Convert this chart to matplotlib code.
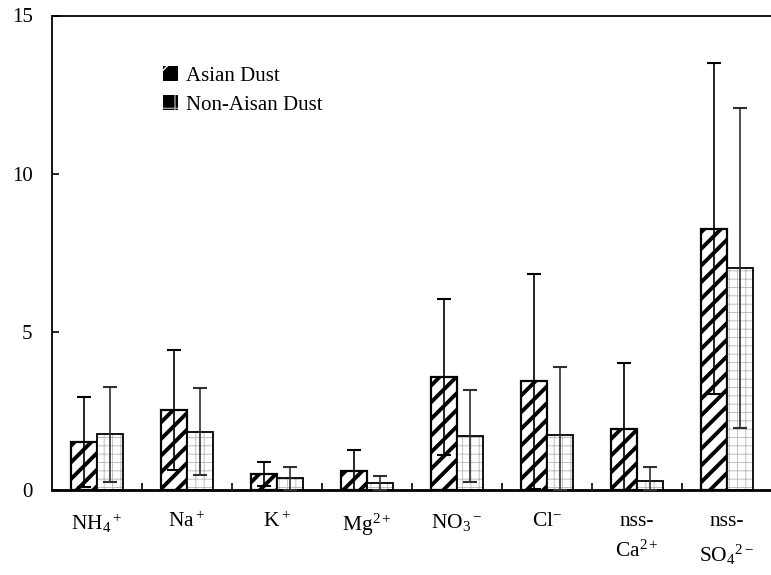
import matplotlib
matplotlib.use("Agg")
import matplotlib.pyplot as plt
from matplotlib.patches import Patch
import numpy as np

plt.rcParams['font.family'] = ['Liberation Serif', 'DejaVu Serif']
plt.rcParams['mathtext.fontset'] = 'custom'
plt.rcParams['mathtext.rm'] = 'Liberation Serif'
plt.rcParams['mathtext.it'] = 'Liberation Serif'
plt.rcParams['mathtext.bf'] = 'Liberation Serif'

categories = [r'NH$_4$$^+$', r'Na$^+$', r'K$^+$', r'Mg$^{2+}$', r'NO$_3$$^-$',
              r'Cl$^{-}$', 'nss-\nCa$^{2+}$', 'nss-\nSO$_4$$^{2-}$']
asian_mean = [1.52, 2.53, 0.50, 0.61, 3.58, 3.44, 1.93, 8.26]
asian_sd = [1.43, 1.89, 0.37, 0.67, 2.47, 3.40, 2.10, 5.24]
non_mean = [1.76, 1.84, 0.37, 0.23, 1.70, 1.74, 0.28, 7.02]
non_sd = [1.50, 1.37, 0.37, 0.22, 1.46, 2.15, 0.46, 5.05]
legend_labels = ['Asian Dust', 'Non-Aisan Dust']
yticks = [0, 5, 10, 15]

fig = plt.figure(figsize=(7.71, 5.75), dpi=100)
ax = fig.add_axes([52/771, 1-490/575, 720/771, (490-15.5)/575])

x = np.arange(len(categories)) + 0.5
w = 0.29

def lower_err(m, s):
    return [min(si, mi) for mi, si in zip(m, s)]

# Asian bars
b1 = ax.bar(x - w/2, asian_mean, width=w, facecolor='white', edgecolor='black',
            hatch='//', linewidth=1.6, zorder=2)
for p in b1:
    if hasattr(p, 'set_hatch_linewidth'):
        p.set_hatch_linewidth(2.8)

# Non-Asian bars: grey dotted grid + black outline
b2 = ax.bar(x + w/2, non_mean, width=w, facecolor='white', edgecolor='#b5b5b5',
            hatch='++', linewidth=0, zorder=2)
for p in b2:
    if hasattr(p, 'set_hatch_linewidth'):
        p.set_hatch_linewidth(0.6)
ax.bar(x + w/2, non_mean, width=w, facecolor='none', edgecolor='black',
       linewidth=1.3, zorder=3)

ax.errorbar(x - w/2, asian_mean, yerr=[lower_err(asian_mean, asian_sd), asian_sd],
            fmt='none', ecolor='black', elinewidth=1.2, capsize=5, capthick=1.5, zorder=4)
ax.errorbar(x + w/2, non_mean, yerr=[lower_err(non_mean, non_sd), non_sd],
            fmt='none', ecolor='#303030', elinewidth=1.2, capsize=5, capthick=1.5, zorder=4)

ax.set_xlim(0, len(categories))
ax.set_ylim(0, 15)
ax.set_yticks(yticks)
ax.set_yticklabels([str(t) for t in yticks], fontsize=15)
ax.tick_params(axis='y', direction='in', length=5, width=1.2, pad=14)

ax.set_xticks(x)
ax.set_xticklabels(categories, fontsize=15.5, va='top', linespacing=1.6)
ax.tick_params(axis='x', which='major', length=0, pad=16)
ax.set_xticks(np.arange(1, len(categories)), minor=True)
ax.tick_params(axis='x', which='minor', direction='in', length=5, width=1.2)

for s in ['left', 'top']:
    ax.spines[s].set_linewidth(1.3)
ax.spines['bottom'].set_linewidth(2.0)
ax.spines['right'].set_visible(False)

h1 = Patch(facecolor='black', edgecolor='white', hatch='/', linewidth=0)
h2 = Patch(facecolor='black', edgecolor='#999999', hatch='+', linewidth=0)
fig.legend([h1, h2], legend_labels, loc='upper left',
           bbox_to_anchor=(163/771, 1-66/575), frameon=False, fontsize=15,
           handlelength=0.7, handleheight=0.7, handletextpad=0.4,
           labelspacing=0.45, borderpad=0, borderaxespad=0)

fig.savefig('out.png', dpi=100)
